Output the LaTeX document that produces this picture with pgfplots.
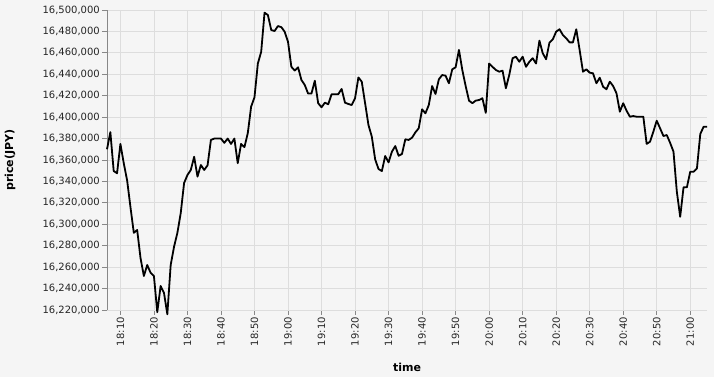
\documentclass[border=0pt]{standalone}
\usepackage{pgfplots}
\pgfplotsset{compat=1.18}
\usepackage{pgfplotstable}
\usepackage{fontspec}
\setmainfont{DejaVu Sans}
\definecolor{bg}{HTML}{F5F5F5}
\definecolor{gridc}{HTML}{DDDDDD}
\definecolor{axc}{HTML}{888888}
\pgfplotstableread{
m v
6 16370000
7 16386000
8 16349700
9 16347600
10 16375000
11 16357000
12 16341000
13 16316000
14 16292000
15 16294700
16 16268500
17 16251700
18 16262000
19 16254800
20 16251700
21 16218000
22 16242400
23 16236000
24 16216000
25 16262000
26 16279000
27 16292000
28 16310500
29 16338500
30 16346000
31 16350700
32 16363000
33 16344500
34 16355300
35 16350700
36 16355000
37 16378700
38 16380000
39 16380000
40 16380000
41 16376000
42 16380000
43 16375000
44 16380000
45 16357000
46 16375000
47 16372000
48 16385000
49 16409800
50 16418500
51 16450000
52 16461000
53 16497500
54 16495300
55 16481300
56 16480400
57 16485000
58 16484000
59 16479800
60 16470400
61 16447000
62 16443500
63 16446500
64 16434700
65 16430000
66 16422000
67 16422000
68 16434000
69 16413000
70 16409200
71 16413500
72 16412000
73 16421300
74 16421300
75 16421500
76 16426300
77 16413500
78 16412300
79 16411300
80 16417600
81 16437000
82 16433100
83 16413000
84 16392700
85 16381800
86 16360600
87 16351600
88 16349700
89 16363700
90 16357800
91 16367800
92 16373000
93 16364000
94 16365600
95 16379300
96 16378700
97 16380800
98 16385800
99 16389600
100 16407300
101 16403600
102 16411300
103 16429000
104 16421600
105 16435300
106 16439300
107 16438700
108 16431600
109 16444600
110 16446500
111 16462700
112 16444000
113 16429000
114 16415400
115 16413000
116 16415400
117 16416000
118 16417600
119 16404000
120 16450000
121 16447000
122 16444000
123 16442400
124 16443400
125 16427000
126 16439300
127 16455000
128 16456400
129 16451700
130 16456400
131 16447000
132 16451700
133 16455000
134 16450000
135 16471400
136 16459600
137 16454000
138 16469600
139 16472600
140 16479800
141 16482000
142 16476700
143 16473600
144 16469800
145 16469800
146 16482000
147 16462700
148 16442400
149 16444600
150 16441500
151 16440900
152 16431600
153 16436800
154 16428400
155 16426000
156 16433100
157 16429000
158 16422200
159 16405100
160 16413000
161 16406000
162 16400400
163 16401000
164 16400400
165 16400400
166 16400400
167 16375000
168 16377100
169 16386500
170 16396700
171 16389600
172 16382400
173 16383300
174 16376000
175 16367800
176 16330400
177 16307000
178 16334500
179 16334500
180 16349100
181 16349100
182 16352200
183 16384300
184 16391100
185 16391100
}\pricedata
\begin{document}
\begin{tikzpicture}
\fill[bg] (-107pt,-67pt) rectangle (607pt,310pt);
\path[use as bounding box] (-107pt,-67pt) rectangle (607pt,310pt);
\begin{axis}[
  at={(0pt,0pt)}, anchor=south west,
  scale only axis, width=600pt, height=300pt,
  xmin=6, xmax=185,
  ymin=16220000, ymax=16500000,
  axis lines=left,
  axis line style={-},
  x axis line style={draw=gridc},
  y axis line style={draw=axc},
  grid=major,
  major grid style={draw=gridc, line width=0.8pt},
  tick align=outside,
  major tick length=5pt,
  tick style={draw=axc, line width=0.8pt},
  xtick={10,20,...,180},
  xticklabels={18:10,18:20,18:30,18:40,18:50,19:00,19:10,19:20,19:30,19:40,19:50,20:00,20:10,20:20,20:30,20:40,20:50,21:00},
  x tick label style={rotate=90, anchor=east, font=\fontsize{10}{12}\selectfont, text=black!85, inner sep=2pt},
  ytick={16220000,16240000,16260000,16280000,16300000,16320000,16340000,16360000,16380000,16400000,16420000,16440000,16460000,16480000,16500000},
  yticklabels={{16,220,000},{16,240,000},{16,260,000},{16,280,000},{16,300,000},{16,320,000},{16,340,000},{16,360,000},{16,380,000},{16,400,000},{16,420,000},{16,440,000},{16,460,000},{16,480,000},{16,500,000}},
  scaled y ticks=false,
  y tick label style={font=\fontsize{10}{12}\selectfont, text=black!85, inner sep=2pt},
  xlabel={\bfseries time},
  ylabel={\bfseries price(JPY)},
  label style={font=\fontsize{11}{13}\selectfont},
  xlabel style={at={(axis description cs:0.5,0)}, anchor=center, yshift=-57pt},
  ylabel style={at={(axis description cs:0,0.5)}, anchor=center, yshift=97pt},
  clip=false,
]
\addplot[black, line width=1.8pt, line join=round, mark=none] table[x=m, y=v] {\pricedata};
\end{axis}
\end{tikzpicture}
\end{document}
